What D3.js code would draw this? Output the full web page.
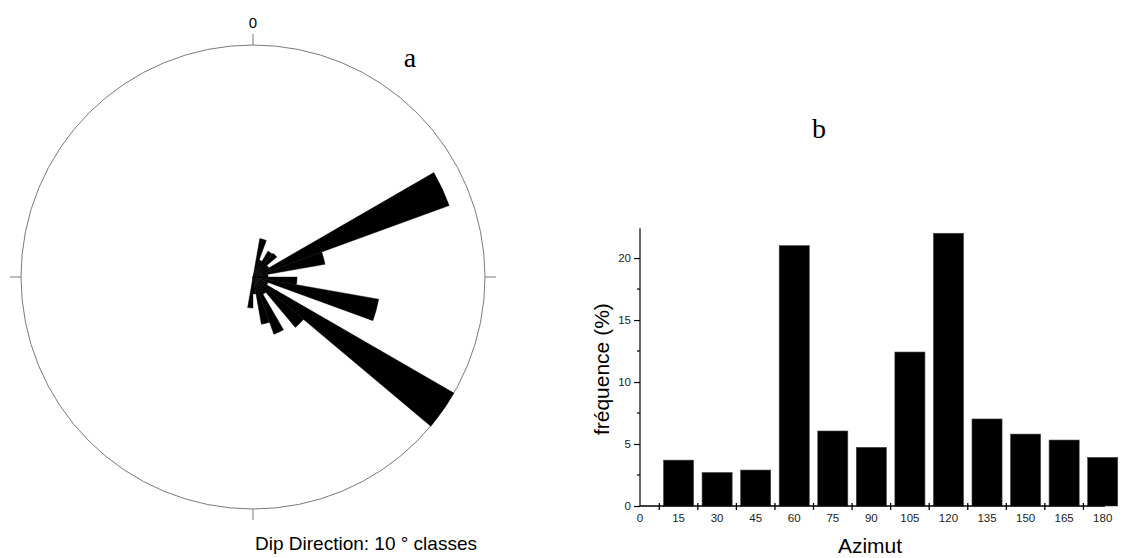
<!DOCTYPE html>
<html>
<head>
<meta charset="utf-8">
<script src="https://cdn.jsdelivr.net/npm/d3@7"></script>
<style>
  html, body { margin: 0; padding: 0; background: #fff; }
  svg { display: block; }
</style>
</head>
<body>
<svg id="chart" width="1123" height="558"></svg>
<script>
// Rose diagram (a): dip direction in 10° classes, relative petal length (largest = 100)
const roseClasses = d3.range(0, 360, 10);
const roseValues = [
  0, 16.8, 7.8, 12.9, 13.4, 7.8, 90, 31.5, 6.5,
  19, 55, 6.9, 100, 28.4, 8.6, 26.3, 20.7, 7.3,
  13.4, 0, 0, 0, 0, 0, 0, 0, 0,
  0, 0, 0, 0, 0, 0, 0, 0, 0
];

// Histogram (b): azimuth classes and frequency (%)
const azimuts = [15, 30, 45, 60, 75, 90, 105, 120, 135, 150, 165, 180];
const frequences = [3.7, 2.7, 2.9, 21.0, 6.05, 4.73, 12.42, 22.0, 7.02, 5.8, 5.32, 3.92];
const xTickLabels = [0, 15, 30, 45, 60, 75, 90, 105, 120, 135, 150, 165, 180];
const yTickLabels = [0, 5, 10, 15, 20];

const svg = d3.select("#chart");

// ---------- (a) rose diagram ----------
const cx = 253, cy = 277, R = 232;
const rose = svg.append("g").attr("transform", `translate(${cx},${cy})`);
const rScale = d3.scaleLinear().domain([0, 100]).range([0, R]);
const toRad = d => d * Math.PI / 180;

rose.append("circle")
  .attr("r", R)
  .attr("fill", "none")
  .attr("stroke", "#7a7a7a")
  .attr("stroke-width", 1);

// cardinal ticks outside the circle
[0, 90, 180, 270].forEach(a => {
  const s = Math.sin(toRad(a)), c = -Math.cos(toRad(a));
  rose.append("line")
    .attr("x1", s * R).attr("y1", c * R)
    .attr("x2", s * (R + 11)).attr("y2", c * (R + 11))
    .attr("stroke", "#7a7a7a").attr("stroke-width", 1);
});

const arc = d3.arc().innerRadius(0);
rose.selectAll("path.petal")
  .data(roseClasses.map((c, i) => ({ c, v: roseValues[i] })).filter(d => d.v > 0))
  .join("path")
  .attr("class", "petal")
  .attr("d", d => arc({ outerRadius: rScale(d.v), startAngle: toRad(d.c), endAngle: toRad(d.c + 10) }))
  .attr("fill", "#000")
  .attr("stroke", "#000")
  .attr("stroke-width", 0.4);

rose.append("text")
  .attr("x", 0).attr("y", -R - 17)
  .attr("text-anchor", "middle")
  .attr("font-family", "Liberation Sans, Arial, sans-serif")
  .attr("font-size", 15)
  .text("0");

svg.append("text")
  .attr("x", 410).attr("y", 67)
  .attr("text-anchor", "middle")
  .attr("font-family", "Liberation Serif, Times New Roman, serif")
  .attr("font-size", 28)
  .text("a");

svg.append("text")
  .attr("x", 366).attr("y", 550)
  .attr("text-anchor", "middle")
  .attr("font-family", "Liberation Sans, Arial, sans-serif")
  .attr("font-size", 19)
  .text("Dip Direction: 10 ° classes");

// ---------- (b) histogram ----------
const x = d3.scaleLinear().domain([0, 180]).range([640, 1102.7]);
const y = d3.scaleLinear().domain([0, 22.4]).range([506, 228.3]);
const barW = x(11.7) - x(0);
const hist = svg.append("g");

hist.selectAll("rect.bar")
  .data(azimuts.map((a, i) => ({ a, f: frequences[i] })))
  .join("rect")
  .attr("class", "bar")
  .attr("x", d => x(d.a) - barW / 2)
  .attr("y", d => y(d.f))
  .attr("width", barW)
  .attr("height", d => y(0) - y(d.f))
  .attr("fill", "#000")
  .attr("stroke", "#444")
  .attr("stroke-width", 0.6);

// y axis
const yAxis = d3.axisLeft(y)
  .tickValues(yTickLabels)
  .tickSize(6)
  .tickPadding(3)
  .tickFormat(d3.format("d"));
const gy = hist.append("g").attr("transform", `translate(${x(0)},0)`).call(yAxis);
gy.select(".domain").attr("d", `M0,${y(0)}V${y.range()[1]}`).attr("stroke", "#000").attr("stroke-width", 1.2);
gy.selectAll(".tick line").attr("stroke", "#000").attr("stroke-width", 1.2);
gy.selectAll(".tick text").attr("font-family", "Liberation Sans, Arial, sans-serif").attr("font-size", 11.5).attr("fill", "#222");
// minor ticks
hist.append("g").selectAll("line")
  .data([2.5, 7.5, 12.5, 17.5])
  .join("line")
  .attr("x1", x(0) - 3).attr("x2", x(0))
  .attr("y1", d => y(d)).attr("y2", d => y(d))
  .attr("stroke", "#000").attr("stroke-width", 1.2);

// x axis line and bin-boundary ticks
hist.append("line")
  .attr("x1", x(0)).attr("x2", x(180.9))
  .attr("y1", y(0)).attr("y2", y(0))
  .attr("stroke", "#000").attr("stroke-width", 1.4);
hist.append("g").selectAll("line")
  .data(d3.range(7.5, 180, 15))
  .join("line")
  .attr("x1", d => x(d)).attr("x2", d => x(d))
  .attr("y1", y(0) - 3).attr("y2", y(0) + 4)
  .attr("stroke", "#000").attr("stroke-width", 1.3);
hist.append("g").selectAll("text")
  .data(xTickLabels)
  .join("text")
  .attr("x", d => x(d))
  .attr("y", y(0) + 16)
  .attr("text-anchor", "middle")
  .attr("font-family", "Liberation Sans, Arial, sans-serif")
  .attr("font-size", 11.5)
  .attr("fill", "#222")
  .text(d => d);

// axis titles
hist.append("text")
  .attr("transform", `translate(609,${(y(0) + y.range()[1]) / 2 + 2}) rotate(-90)`)
  .attr("text-anchor", "middle")
  .attr("font-family", "Liberation Sans, Arial, sans-serif")
  .attr("font-size", 21)
  .text("fréquence (%)");

hist.append("text")
  .attr("x", 870).attr("y", 553)
  .attr("text-anchor", "middle")
  .attr("font-family", "Liberation Sans, Arial, sans-serif")
  .attr("font-size", 21)
  .text("Azimut");

svg.append("text")
  .attr("x", 819).attr("y", 138)
  .attr("text-anchor", "middle")
  .attr("font-family", "Liberation Serif, Times New Roman, serif")
  .attr("font-size", 28)
  .text("b");
</script>
</body>
</html>
